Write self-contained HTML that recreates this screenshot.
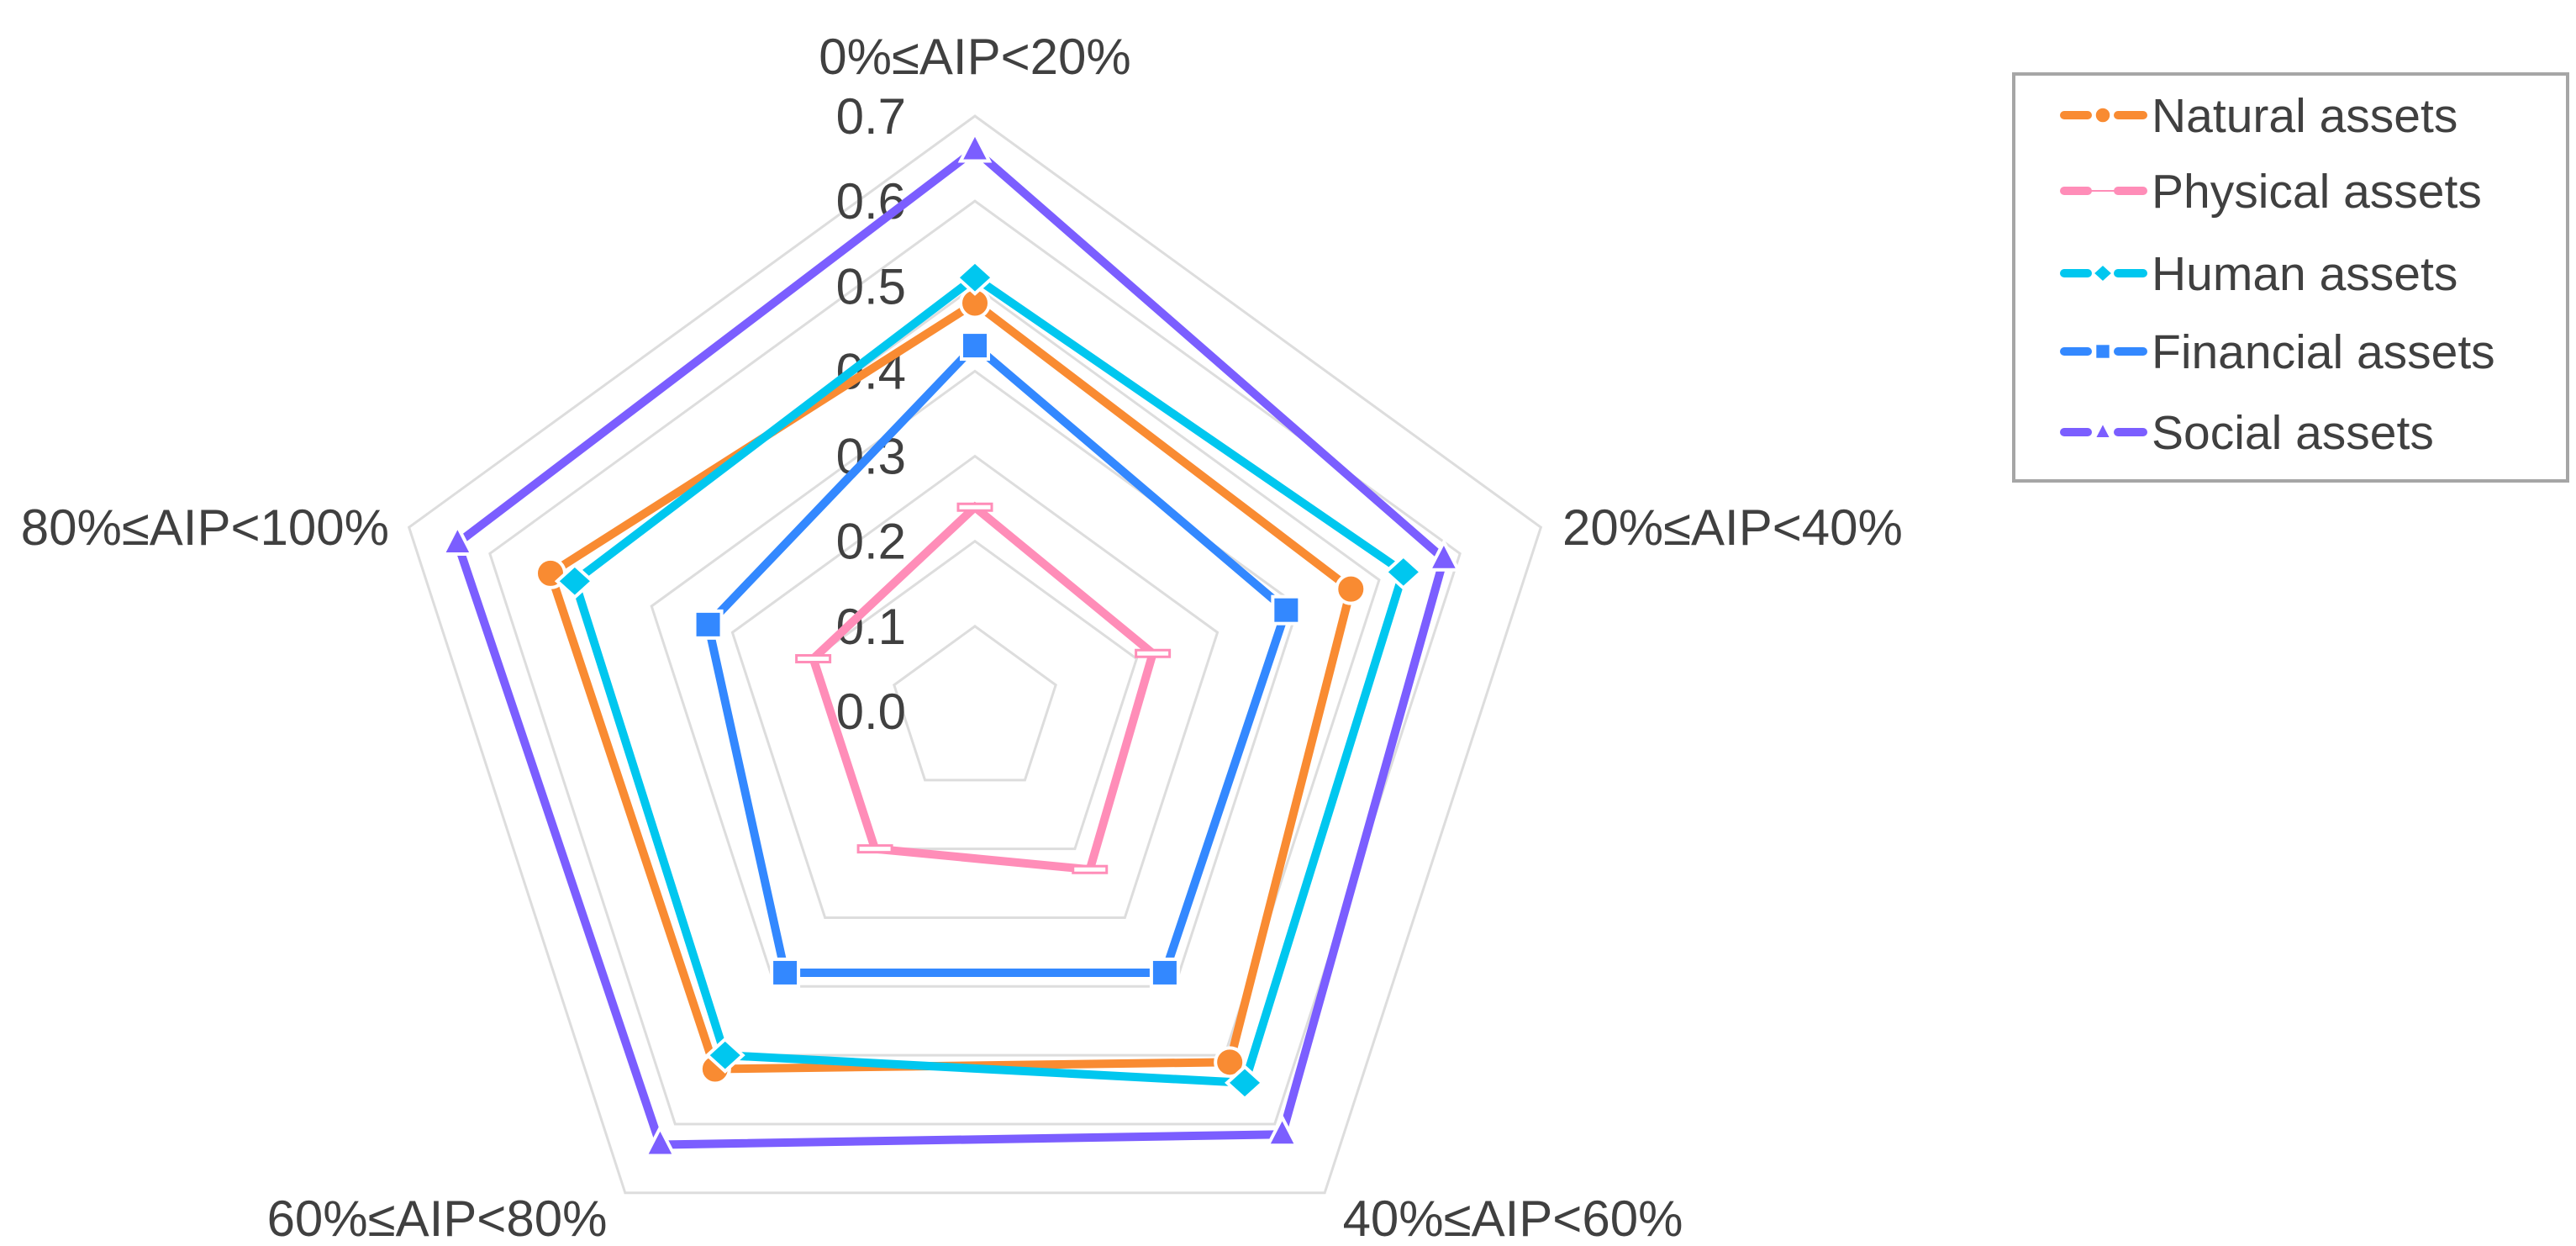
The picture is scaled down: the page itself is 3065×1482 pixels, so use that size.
<!DOCTYPE html>
<html><head><meta charset="utf-8"><style>
html,body{margin:0;padding:0;background:#fff;}
svg{display:block;font-family:"Liberation Sans",sans-serif;}
</style></head><body>
<svg id="chart" width="3065" height="1482" viewBox="0 0 3065 1482" xmlns="http://www.w3.org/2000/svg">
<g id="grid"></g>
<g id="ticks"></g>
<g id="cats"></g>
<g id="series"></g>
<g id="legend"></g>
</svg>
<script>
const categories = ["0%≤AIP<20%","20%≤AIP<40%","40%≤AIP<60%","60%≤AIP<80%","80%≤AIP<100%"];
const seriesNames = ["Natural assets","Physical assets","Human assets","Financial assets","Social assets"];
const naturalValues = [0.48,0.465,0.51,0.52,0.525];
const physicalValues = [0.24,0.22,0.23,0.20,0.20];
const humanValues = [0.51,0.53,0.54,0.50,0.495];
const financialValues = [0.43,0.385,0.38,0.38,0.33];
const socialValues = [0.66,0.58,0.615,0.63,0.64];
const tickValues = [0,0.1,0.2,0.3,0.4,0.5,0.6,0.7];
const tickLabels = ["0.0","0.1","0.2","0.3","0.4","0.5","0.6","0.7"];

const NS="http://www.w3.org/2000/svg";
const cx=1160, cy=846, maxV=0.7, maxR=708;
function rScale(v){return v/maxV*maxR;}
function pt(i,v){const a=-Math.PI/2+i*2*Math.PI/5;const r=rScale(v);return [cx+r*Math.cos(a),cy+r*Math.sin(a)];}
function mk(tag,attrs,parent){const e=document.createElementNS(NS,tag);for(const k in attrs)e.setAttribute(k,attrs[k]);parent.appendChild(e);return e;}

const grid=document.getElementById('grid');
tickValues.forEach((t,j)=>{ if(t===0) return;
  const pts=categories.map((c,i)=>pt(i,t).join(',')).join(' ');
  const p=mk('polygon',{points:pts,fill:'none',stroke:'#dddddd','stroke-width':3},grid);
  
  
});
const ticks=document.getElementById('ticks');
tickValues.forEach((t,j)=>{
  const y=cy-rScale(t);
  const e=mk('text',{x:1078,y:y+21,'text-anchor':'end','font-size':60,fill:'#404040'},ticks);
  e.textContent=tickLabels[j];
  
  
});
const cats=document.getElementById('cats');
const catPos=[[1160,88,'middle'],[1859,648,'start'],[1800,1470,'middle'],[520,1470,'middle'],[463,648,'end']];
categories.forEach((c,i)=>{
  const e=mk('text',{x:catPos[i][0],y:catPos[i][1],'text-anchor':catPos[i][2],'font-size':60,fill:'#404040'},cats);
  e.textContent=c;
  
  
});

const colors=["#F98B32","#FF8DB8","#00C7EF","#3388FF","#7B5EFF"];
const markers=["circle","dash","diamond","square","triangle"];
const allValues=[naturalValues,physicalValues,humanValues,financialValues,socialValues];
function drawMarker(g,type,x,y,col,s){
  let e;
  if(type==='circle') e=mk('circle',{cx:x,cy:y,r:17*s,fill:col,stroke:'#fff','stroke-width':4*s},g);
  else if(type==='square') e=mk('rect',{x:x-16*s,y:y-16*s,width:32*s,height:32*s,fill:col,stroke:'#fff','stroke-width':4*s},g);
  else if(type==='diamond') e=mk('polygon',{points:`${x},${y-19*s} ${x+21*s},${y} ${x},${y+19*s} ${x-21*s},${y}`,fill:col,stroke:'#fff','stroke-width':4*s},g);
  else if(type==='triangle') e=mk('polygon',{points:`${x},${y-20*s} ${x+17*s},${y+13*s} ${x-17*s},${y+13*s}`,fill:col,stroke:'#fff','stroke-width':4*s},g);
  else e=mk('rect',{x:x-20*s,y:y-4*s,width:40*s,height:8*s,fill:'#fff',stroke:col,'stroke-width':3*s},g);
  return e;
}
const sg=document.getElementById('series');
allValues.forEach((vals,k)=>{
  const g=mk('g',{},sg);
  
  
  const pts=vals.map((v,i)=>pt(i,v).join(',')).join(' ');
  const poly=mk('polygon',{points:pts,fill:'none',stroke:colors[k],'stroke-width':10,'stroke-linejoin':'miter'},g);
  
  
  vals.forEach((v,i)=>{const [x,y]=pt(i,v);
    const m=drawMarker(g,markers[k],x,y,colors[k],1);
    
    
  });
});

const lg=document.getElementById('legend');
const box=mk('rect',{x:2396,y:88,width:659,height:484,fill:'#fff',stroke:'#a6a6a6','stroke-width':4},lg);


const ly=[137,227,325,418,514];
seriesNames.forEach((n,k)=>{
  const g=mk('g',{},lg);
  
  
  mk('line',{x1:2456,y1:ly[k],x2:2484,y2:ly[k],stroke:colors[k],'stroke-width':10,'stroke-linecap':'round'},g);
  mk('line',{x1:2520,y1:ly[k],x2:2550,y2:ly[k],stroke:colors[k],'stroke-width':10,'stroke-linecap':'round'},g);
  if(k===1) mk('line',{x1:2484,y1:ly[k],x2:2520,y2:ly[k],stroke:colors[k],'stroke-width':2},g);
  else drawMarker(g,markers[k],2502,ly[k],colors[k],0.55);
  const t=mk('text',{x:2560,y:ly[k]+20,'font-size':57,fill:'#404040'},g);
  t.textContent=n;
});
</script>
</body></html>
